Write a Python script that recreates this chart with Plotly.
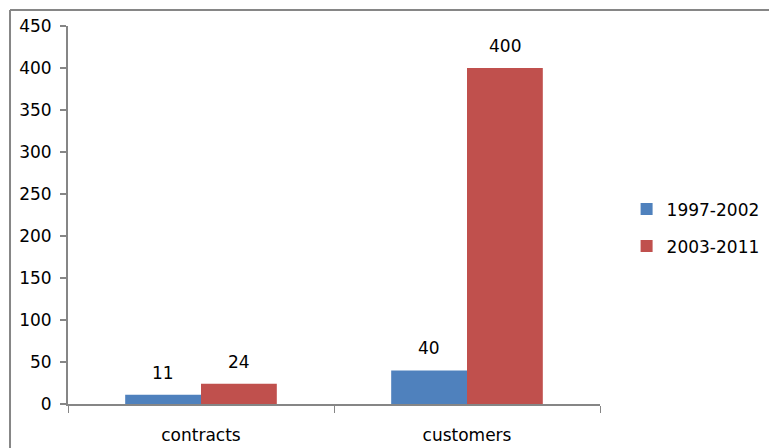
import plotly.graph_objects as go

categories = ["contracts", "customers"]
series_names = ["1997-2002", "2003-2011"]
values_1997_2002 = [11, 40]
values_2003_2011 = [24, 400]
y_ticks = [0, 50, 100, 150, 200, 250, 300, 350, 400, 450]

colors = ["#4F81BD", "#C0504D"]
series_values = [values_1997_2002, values_2003_2011]
FONT = "DejaVu Sans"
FS = 17
AXIS_GRAY = "#868686"

fig = go.Figure()
for i, (name, vals) in enumerate(zip(series_names, series_values)):
    fig.add_trace(go.Bar(
        x=categories, y=vals, name=name,
        marker=dict(color=colors[i], line=dict(width=0)),
        legendgroup=name,
    ))

# data labels
offsets = [-38, 38]
for i, vals in enumerate(series_values):
    for c, v in zip(categories, vals):
        fig.add_annotation(
            x=c, y=v, xref="x", yref="y", text=str(v), showarrow=False,
            xshift=offsets[i], yshift=10, yanchor="bottom",
            font=dict(family=FONT, size=FS, color="#000000"),
        )

# outer chart frame (left and top edges visible)
fig.add_shape(type="line", xref="paper", yref="paper",
              x0=-0.109, x1=-0.109, y0=-0.2, y1=1.0423,
              line=dict(color=AXIS_GRAY, width=2))
fig.add_shape(type="line", xref="paper", yref="paper",
              x0=-0.109, x1=1.35, y0=1.0423, y1=1.0423,
              line=dict(color=AXIS_GRAY, width=2))

fig.update_layout(
    width=769, height=448,
    margin=dict(l=68, r=169, t=26, b=44, autoexpand=False),
    paper_bgcolor="white", plot_bgcolor="white",
    barmode="group", bargap=0.43, bargroupgap=0,
    font=dict(family=FONT, size=FS, color="#000000"),
    showlegend=True,
    legend=dict(
        x=1.05, y=0.466, xanchor="left", yanchor="middle",
        font=dict(family=FONT, size=FS, color="#000000"),
        tracegroupgap=12, traceorder="grouped",
        bgcolor="rgba(0,0,0,0)",
    ),
)
fig.update_xaxes(
    showline=True, linecolor=AXIS_GRAY, linewidth=2,
    ticks="outside", tickson="boundaries", ticklen=7, tickcolor=AXIS_GRAY, tickwidth=1,
    showgrid=False, tickfont=dict(family=FONT, size=FS),
    ticklabelstandoff=15,
)
fig.update_yaxes(
    range=[0, 450], tickvals=y_ticks,
    showline=True, linecolor=AXIS_GRAY, linewidth=2,
    ticks="outside", ticklen=6, tickcolor=AXIS_GRAY, tickwidth=2,
    showgrid=False, zeroline=False, tickfont=dict(family=FONT, size=FS),
    ticklabelstandoff=5,
)

fig.write_html("out.html")
